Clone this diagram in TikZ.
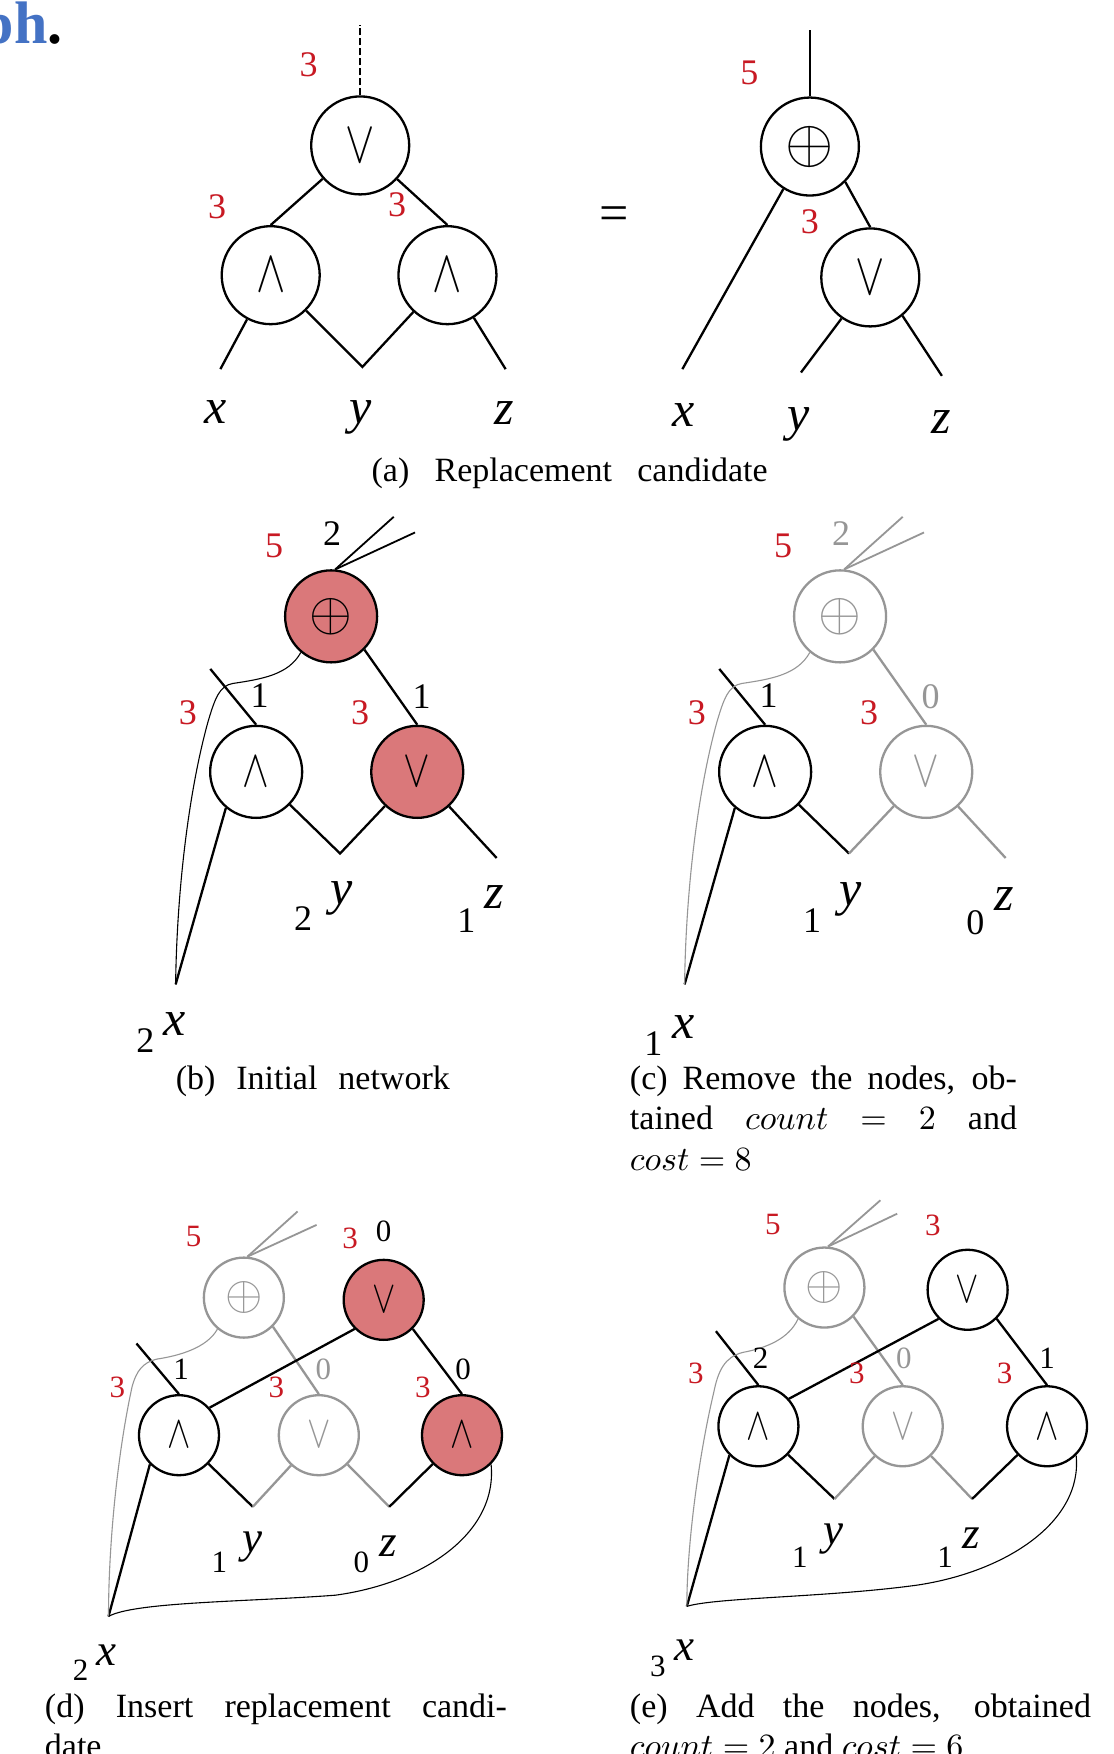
\documentclass[tikz,border=0pt]{standalone}
\usepackage{graphicx}
\usepackage[no-math]{fontspec}
\setmainfont{Liberation Serif}
\newcommand{\mth}[2]{{\fontsize{10}{12}\selectfont\scalebox{#1}{$#2$}}}
\newcommand{\glyph}[3]{{\fontsize{10}{12}\selectfont\scalebox{#1}[#2]{$#3$}}}
\definecolor{gatered}{RGB}{218,120,122}
\definecolor{numred}{RGB}{200,25,35}
\definecolor{fadegray}{RGB}{150,150,150}
\definecolor{titleblue}{RGB}{68,114,196}
\tikzset{
 gate/.style={circle, draw, line width=2.3pt, inner sep=0pt},
 gateA/.style={gate, minimum size=98pt},
 gateB/.style={gate, minimum size=92pt},
 gateD/.style={gate, minimum size=80pt},
 greyed/.style={draw=fadegray, text=fadegray},
 hot/.style={fill=gatered},
 wire/.style={line width=2.3pt},
 fanwire/.style={line width=1.8pt},
 thinwire/.style={line width=1.1pt},
 num/.style={font=\fontsize{36}{36}\selectfont, inner sep=0pt},
 rnum/.style={num, text=numred},
 snum/.style={font=\fontsize{31}{31}\selectfont, inner sep=0pt},
 srnum/.style={snum, text=numred},
 var/.style={font=\itshape\fontsize{50}{50}\selectfont, inner sep=0pt},
 svar/.style={font=\itshape\fontsize{45}{45}\selectfont, inner sep=0pt},
 captext/.style={font=\fontsize{34}{41}\selectfont, inner sep=0pt},
}
% gate symbols
\newcommand{\orA}{\glyph{4.4}{6.0}{\vee}}
\newcommand{\andA}{\glyph{4.4}{6.0}{\wedge}}
\newcommand{\xorA}{\glyph{6.2}{6.2}{\oplus}}
\newcommand{\orB}{\glyph{4.0}{5.3}{\vee}}
\newcommand{\andB}{\glyph{4.0}{5.3}{\wedge}}
\newcommand{\xorB}{\glyph{5.5}{5.5}{\oplus}}
\newcommand{\orD}{\glyph{3.5}{4.6}{\vee}}
\newcommand{\andD}{\glyph{3.5}{4.6}{\wedge}}
\newcommand{\xorD}{\glyph{4.8}{4.8}{\oplus}}
\newcommand{\cm}[1]{\mth{3.4}{#1}}
\begin{document}
\begin{tikzpicture}[x=1.1186pt, y=-1.1186pt]
\fill[white] (0,0) rectangle (995,1568);
\useasboundingbox (0,0) rectangle (995,1568);

% heading fragment
\node[anchor=base east, inner sep=0pt, text=titleblue, font=\bfseries\fontsize{60}{60}\selectfont] (ttl) at (56,38.5) {ph\textcolor{black}{.}};

% ---------- (a) left tree ----------
\node[gateA] (a1) at (322,130) {\orA};
\node[gateA] (a2) at (242,246) {\andA};
\node[gateA] (a3) at (400,246) {\andA};
\coordinate (a0) at (322,22);
\coordinate (ax) at (197,330);
\coordinate (ay) at (324,328);
\coordinate (az) at (452,330);
\draw[line width=1.6pt, dash pattern=on 7pt off 3pt] (a1.north) -- (a0);
\draw[wire] (a1) -- (a2.north);
\draw[wire] (a1) -- (a3.north);
\draw[wire] (a2) -- (ax);
\draw[wire] (a2) -- (ay) -- (a3);
\draw[wire] (a3) -- (az);
\node[rnum] (an1) at (276,58) {3};
\node[rnum] (an2) at (194,185) {3};
\node[rnum] (an3) at (355,183) {3};
\node[var] (avx) at (193,368) {x};
\node[var] (avy) at (322,373) {y};
\node[var] (avz) at (451,369) {z};
\node[inner sep=0pt, font=\fontsize{52}{52}\selectfont] (eq) at (549,195) {=};

% ---------- (a) right tree ----------
\node[gateA] (b1) at (724,131) {\xorA};
\node[gateA] (b2) at (778,248) {\orA};
\coordinate (b0) at (724,27);
\coordinate (bx) at (610,330);
\coordinate (by) at (716,333);
\coordinate (bz) at (842,336);
\draw[wire] (b1.north) -- (b0);
\draw[wire] (b1.-122) -- (bx);
\draw[wire] (b1.-45) -- (b2.north);
\draw[wire] (b2.-125) -- (by);
\draw[wire] (b2.-50) -- (bz);
\node[rnum] (bn1) at (670,65) {5};
\node[rnum] (bn2) at (724,198) {3};
\node[var] (bvx) at (611,371) {x};
\node[var] (bvy) at (714,379) {y};
\node[var] (bvz) at (841,377) {z};
\node[captext, anchor=base west] (capa) at (332,430) {\makebox[396pt][s]{(a) Replacement candidate}};

% ---------- (b) initial network ----------
\node[gateB, hot] (p1) at (296,551) {\xorB};
\node[gateB] (p2) at (229,690) {\andB};
\node[gateB, hot] (p3) at (373,690) {\orB};
\coordinate (pf1) at (352,462);
\coordinate (pf2) at (371,476);
\coordinate (pin) at (188,598);
\coordinate (px) at (157,880);
\coordinate (py) at (304,763);
\coordinate (pz) at (444,767);
\draw[fanwire] (p1.85) -- (pf1);
\draw[fanwire] (p1.85) -- (pf2);
\draw[wire] (pin) -- (p2.north);
\draw[wire] (p1.-45) -- (p3.north);
\draw[wire] (p2.-130) -- (px);
\draw[wire] (p2) -- (py) -- (p3);
\draw[wire] (p3) -- (pz);
\draw[thinwire] (p1.-130) .. controls (258,603) and (235,607) .. (208,611)
  .. controls (196,613) and (192,625) .. (186,645)
  .. controls (168,710) and (158,800) .. (px);
\node[rnum] (pn1) at (245,488) {5};
\node[num] (pn2) at (297,477) {2};
\node[num] (pn3) at (232,622) {1};
\node[rnum] (pn4) at (168,637) {3};
\node[rnum] (pn5) at (322,637) {3};
\node[num] (pn6) at (377,623) {1};
\node[num] (pn7) at (271,821) {2};
\node[var] (pvy) at (305,803) {y};
\node[num] (pn8) at (417,823) {1};
\node[var] (pvz) at (442,802) {z};
\node[num] (pn9) at (130,930) {2};
\node[var] (pvx) at (156,915) {x};
\node[captext, anchor=base west] (capb) at (157,974) {\makebox[274pt][s]{(b) Initial network}};

% ---------- (c) remove the nodes ----------
\begin{scope}[shift={(455,0)}]
\node[gateB, greyed] (c1) at (296,551) {\xorB};
\node[gateB] (c2) at (229,690) {\andB};
\node[gateB, greyed] (c3) at (373,690) {\orB};
\coordinate (cf1) at (352,462);
\coordinate (cf2) at (371,476);
\coordinate (cin) at (188,598);
\coordinate (cx) at (157,880);
\coordinate (cy) at (304,763);
\coordinate (cz) at (444,767);
\draw[fanwire, fadegray] (c1.85) -- (cf1);
\draw[fanwire, fadegray] (c1.85) -- (cf2);
\draw[wire] (cin) -- (c2.north);
\draw[wire, fadegray] (c1.-45) -- (c3.north);
\draw[wire] (c2.-130) -- (cx);
\draw[wire] (c2) -- (cy);
\draw[wire, fadegray] (cy) -- (c3);
\draw[wire, fadegray] (c3) -- (cz);
\draw[thinwire, fadegray] (c1.-130) .. controls (258,603) and (235,607) .. (208,611)
  .. controls (196,613) and (192,625) .. (186,645)
  .. controls (168,710) and (158,800) .. (cx);
\node[rnum] (cn1) at (245,488) {5};
\node[num, text=fadegray] (cn2) at (297,477) {2};
\node[num] (cn3) at (232,622) {1};
\node[rnum] (cn4) at (168,637) {3};
\node[rnum] (cn5) at (322,637) {3};
\node[num, text=fadegray] (cn6) at (377,623) {0};
\node[num] (cn7) at (271,823) {1};
\node[var] (cvy) at (305,804) {y};
\node[num] (cn8) at (417,825) {0};
\node[var] (cvz) at (443,804) {z};
\node[num] (cn9) at (129,933) {1};
\node[var] (cvx) at (156,918) {x};
\end{scope}
\node[captext, anchor=base west] (capc1) at (563,974) {\makebox[387pt][s]{(c) Remove the nodes, ob-}};
\node[captext, anchor=base west] (capc2) at (563,1010) {\makebox[387pt][s]{tained \cm{count} \cm{=} \cm{2} and}};
\node[captext, anchor=base west] (capc3) at (563,1046) {\cm{cost = 8}};

% ---------- (d) insert replacement candidate ----------
\node[gateD, greyed] (d1) at (218,1160) {\xorD};
\node[gateD, hot] (d2) at (343,1162) {\orD};
\node[gateD] (d3) at (160,1283) {\andD};
\node[gateD, greyed] (d4) at (285,1283) {\orD};
\node[gateD, hot] (d5) at (413,1283) {\andD};
\coordinate (df1) at (266,1083);
\coordinate (df2) at (283,1095);
\coordinate (din) at (122,1201);
\coordinate (dx) at (97,1445);
\coordinate (dy) at (226,1347);
\coordinate (dz) at (348,1347);
\draw[fanwire, fadegray] (d1.85) -- (df1);
\draw[fanwire, fadegray] (d1.85) -- (df2);
\draw[wire] (din) -- (d3.north);
\draw[wire, fadegray] (d1.-45) -- (d4.north);
\draw[wire] (d2.-45) -- (d5.north);
\draw[wire] (d2.-135) -- (d3.42);
\draw[wire] (d3) -- (dy);
\draw[wire, fadegray] (dy) -- (d4);
\draw[wire, fadegray] (d4) -- (dz);
\draw[wire] (dz) -- (d5);
\draw[wire] (d3.-135) -- (dx);
\draw[thinwire, fadegray] (d1.-130) .. controls (185,1205) and (160,1212) .. (140,1215)
  .. controls (128,1218) and (122,1225) .. (118,1240)
  .. controls (105,1300) and (97,1380) .. (dx);
\draw[thinwire] (d5.-45) .. controls (445,1370) and (380,1415) .. (300,1426)
  .. controls (220,1432) and (120,1432) .. (dx);
\node[srnum] (dn1) at (173,1105) {5};
\node[srnum] (dn2) at (313,1107) {3};
\node[snum] (dn3) at (343,1101) {0};
\node[srnum] (dn4) at (105,1240) {3};
\node[snum] (dn5) at (162,1224) {1};
\node[srnum] (dn6) at (247,1240) {3};
\node[snum, text=fadegray] (dn7) at (289,1224) {0};
\node[srnum] (dn8) at (378,1240) {3};
\node[snum] (dn9) at (414,1224) {0};
\node[snum] (dn10) at (196,1397) {1};
\node[svar] (dvy) at (226,1383) {y};
\node[snum] (dn11) at (323,1397) {0};
\node[svar] (dvz) at (347,1382) {z};
\node[snum] (dn12) at (72,1493) {2};
\node[svar] (dvx) at (95,1480) {x};
\node[captext, anchor=base west] (capd1) at (40,1535) {\makebox[462pt][s]{(d) Insert replacement candi-}};
\node[captext, anchor=base west] (capd2) at (40,1571) {date};

% ---------- (e) add the nodes ----------
\node[gateD, greyed] (e1) at (737,1151) {\xorD};
\node[gateD] (e2) at (865,1153) {\orD};
\node[gateD] (e3) at (678,1275) {\andD};
\node[gateD, greyed] (e4) at (807,1275) {\orD};
\node[gateD] (e5) at (936,1275) {\andD};
\coordinate (ef1) at (787,1073);
\coordinate (ef2) at (802,1085);
\coordinate (ein) at (640,1190);
\coordinate (ex) at (614,1436);
\coordinate (ey) at (746,1340);
\coordinate (ez) at (869,1340);
\draw[fanwire, fadegray] (e1.85) -- (ef1);
\draw[fanwire, fadegray] (e1.85) -- (ef2);
\draw[wire] (ein) -- (e3.north);
\draw[wire, fadegray] (e1.-45) -- (e4.north);
\draw[wire] (e2.-45) -- (e5.north);
\draw[wire] (e2.-135) -- (e3.42);
\draw[wire] (e3) -- (ey);
\draw[wire, fadegray] (ey) -- (e4);
\draw[wire, fadegray] (e4) -- (ez);
\draw[wire] (ez) -- (e5);
\draw[wire] (e3.-135) -- (ex);
\draw[thinwire, fadegray] (e1.-130) .. controls (705,1197) and (685,1205) .. (664,1209)
  .. controls (648,1213) and (642,1225) .. (638,1245)
  .. controls (625,1300) and (614,1380) .. (ex);
\draw[thinwire] (e5.-45) .. controls (968,1360) and (900,1405) .. (820,1417)
  .. controls (740,1428) and (640,1428) .. (ex);
\node[srnum] (en1) at (691,1095) {5};
\node[srnum] (en2) at (834,1095) {3};
\node[snum] (en3) at (680,1214) {2};
\node[srnum] (en4) at (622,1228) {3};
\node[srnum] (en5) at (766,1228) {3};
\node[snum, text=fadegray] (en6) at (808,1214) {0};
\node[srnum] (en7) at (898,1228) {3};
\node[snum] (en8) at (936,1214) {1};
\node[snum] (en9) at (715,1392) {1};
\node[svar] (evy) at (745,1376) {y};
\node[snum] (en10) at (845,1392) {1};
\node[svar] (evz) at (868,1375) {z};
\node[snum] (en11) at (588,1490) {3};
\node[svar] (evx) at (612,1475) {x};
\node[captext, anchor=base west] (cape1) at (563,1535) {\makebox[461pt][s]{(e) Add the nodes, obtained}};
\node[captext, anchor=base west] (cape2) at (563,1571) {\cm{count = 2} and \cm{cost = 6}};
\end{tikzpicture}
\end{document}
